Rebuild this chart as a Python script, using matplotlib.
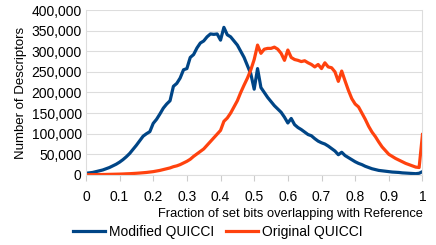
import numpy as np
import matplotlib
matplotlib.use("Agg")
import matplotlib.pyplot as plt
from matplotlib.ticker import FuncFormatter, MultipleLocator

plt.rcParams['font.family'] = ['Liberation Sans', 'DejaVu Sans']

x = [i / 100 for i in range(101)]

modified = [4000, 5000, 6000, 8000, 10000, 12000, 15000, 18000, 22000, 26000,
            31000, 37000, 44000, 52000, 62000, 72000, 83000, 94000, 100000, 105000,
            125000, 135000, 148000, 162000, 172000, 180000, 215000, 222000, 235000, 255000,
            258000, 285000, 292000, 308000, 320000, 325000, 335000, 342000, 341000, 342000,
            327000, 358000, 340000, 335000, 325000, 315000, 300000, 285000, 265000, 245000,
            208000, 258000, 212000, 200000, 188000, 178000, 168000, 160000, 152000, 140000,
            126000, 137000, 122000, 115000, 110000, 104000, 98000, 95000, 88000, 82000,
            78000, 75000, 70000, 64000, 58000, 49000, 55000, 47000, 42000, 37000,
            32000, 28000, 25000, 21000, 18000, 15000, 13000, 11000, 10000, 9000,
            8000, 7000, 6500, 6000, 5000, 4500, 4000, 3500, 3000, 4000,
            8000]

original = [500, 600, 700, 800, 900, 1000, 1200, 1400, 1600, 1800,
            2000, 2300, 2700, 3000, 3500, 4000, 4600, 5300, 6000, 7000,
            8000, 9500, 11000, 13000, 15000, 17000, 20000, 22000, 25000, 29000,
            33000, 38000, 45000, 51000, 57000, 63000, 72000, 81000, 90000, 99000,
            108000, 130000, 138000, 150000, 165000, 180000, 200000, 218000, 235000, 255000,
            280000, 315000, 295000, 305000, 307000, 307000, 310000, 305000, 295000, 278000,
            303000, 285000, 280000, 278000, 275000, 277000, 272000, 268000, 262000, 268000,
            258000, 272000, 262000, 260000, 250000, 227000, 252000, 228000, 205000, 185000,
            172000, 165000, 150000, 135000, 118000, 104000, 93000, 80000, 68000, 59000,
            50000, 45000, 40000, 36000, 32000, 28000, 25000, 22000, 19000, 18000,
            98000]

fig = plt.figure(figsize=(4.36, 2.45), dpi=100)
ax = fig.add_axes([0.197, 0.286, 0.772, 0.673])

blue = '#004586'
orange = '#ff420e'
ax.plot(x, modified, color=blue, lw=2.3, label='Modified QUICCI', solid_joinstyle='round')
ax.plot(x, original, color=orange, lw=2.3, label='Original QUICCI', solid_joinstyle='round')

ax.set_xlim(0, 1)
ax.set_ylim(0, 400000)
ax.xaxis.set_major_locator(MultipleLocator(0.1))
ax.yaxis.set_major_locator(MultipleLocator(50000))
ax.xaxis.set_major_formatter(FuncFormatter(lambda v, p: '0' if abs(v) < 1e-9 else ('1' if abs(v - 1) < 1e-9 else f'{v:.1f}')))
ax.yaxis.set_major_formatter(FuncFormatter(lambda v, p: f'{int(round(v)):,}'))

ax.grid(axis='y', color='#dddddd', lw=0.8)
ax.set_axisbelow(True)
ax.spines['top'].set_visible(False)
for s in ['left', 'right', 'bottom']:
    ax.spines[s].set_color('#dddddd')
    ax.spines[s].set_linewidth(0.8)
ax.tick_params(axis='y', length=0, labelsize=10, pad=3)
ax.tick_params(axis='x', length=4, color='#cccccc', labelsize=10, pad=7)

ax.set_ylabel('Number of Descriptors', fontsize=9.5, labelpad=3)
ax.set_xlabel('Fraction of set bits overlapping with Reference', fontsize=9.3, loc='right', labelpad=3)

leg = fig.legend(loc='center', bbox_to_anchor=(0.5, 0.053), ncol=2, frameon=False,
                 fontsize=10, handlelength=2.3, columnspacing=0.85, handletextpad=0.3)

fig.savefig('out.png', dpi=100)
